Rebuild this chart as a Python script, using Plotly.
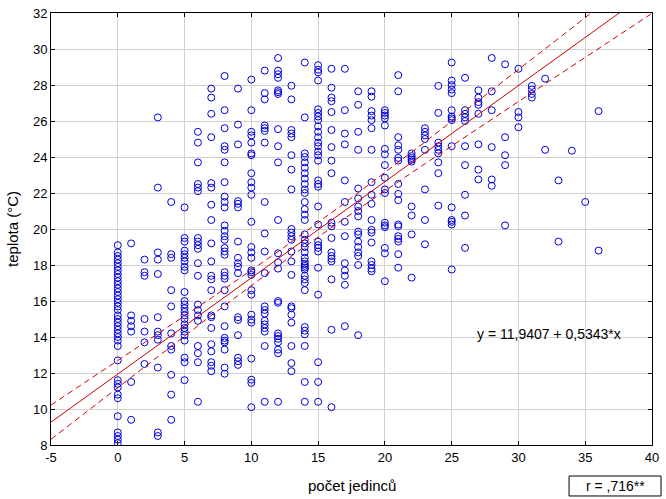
import numpy as np
import plotly.graph_objects as go


# ==========================================================
# Data
# ==========================================================

counts = list(range(0, 37))

temps_by_count = [
    [19.1, 18.7, 18.5, 18.3, 18.1, 17.9, 17.7, 17.5, 17.3, 17.1, 16.9, 16.7, 16.5, 16.3,
     16.1, 15.9, 15.7, 15.5, 15.2, 15.0, 14.8, 14.6, 14.4, 14.2, 14.0, 13.8, 13.5, 12.7,
     11.6, 11.4, 11.2, 10.8, 10.6, 9.6, 8.7, 8.5, 8.3, 8.1],
    [19.2, 15.2, 14.9, 14.6, 14.3, 11.5, 9.4],
    [18.3, 17.6, 17.4, 15.0, 14.3, 13.7, 12.5],
    [26.2, 22.3, 18.7, 18.3, 17.5, 15.1, 14.3, 14.1, 13.85, 12.3, 8.7, 8.5],
    [21.5, 18.6, 18.4, 16.6, 15.7, 14.2, 13.5, 13.3, 11.9, 10.8, 9.4],
    [21.2, 19.5, 19.3, 18.8, 18.6, 18.4, 18.2, 17.9, 17.7, 16.5, 16.0, 15.8, 15.6, 15.4,
     15.2, 15.0, 14.7, 14.5, 14.3, 14.1, 13.8, 12.85, 12.6, 11.6],
    [25.4, 24.8, 23.7, 22.5, 22.3, 22.1, 19.5, 19.3, 19.1, 18.9, 18.1, 17.4, 15.8, 15.5,
     15.2, 14.9, 13.5, 13.1, 12.6, 10.4],
    [27.8, 27.3, 26.4, 25.1, 22.55, 22.3, 21.35, 20.5, 19.2, 18.2, 17.4, 17.2, 16.6, 15.2,
     15.1, 14.5, 13.6, 13.2, 12.6, 12.4, 12.1],
    [28.5, 26.6, 25.6, 24.6, 24.4, 23.7, 22.6, 21.8, 21.5, 21.2, 20.2, 19.9, 19.6, 19.4,
     18.95, 18.75, 18.57, 17.6, 17.4, 17.24, 16.6, 15.7, 14.6, 13.95, 13.8, 13.7, 13.3,
     12.3, 11.96],
    [27.8, 25.8, 24.7, 21.55, 21.4, 21.2, 19.3, 18.4, 18.1, 17.9, 17.55, 15.1, 14.95, 14.1,
     12.85, 12.65, 12.45],
    [28.3, 26.6, 25.4, 25.2, 24.8, 24.2, 24.1, 23.1, 22.6, 22.3, 21.9, 20.4, 19.0, 18.7,
     18.4, 17.7, 17.6, 17.45, 16.6, 16.35, 15.24, 14.96, 14.8, 12.8, 11.63, 11.45, 10.1],
    [28.8, 27.55, 27.2, 25.75, 25.6, 25.45, 24.8, 21.5, 19.75, 18.75, 17.55, 15.7, 15.5,
     15.3, 14.9, 14.7, 14.5, 14.3, 13.5, 10.4],
    [29.5, 28.8, 28.6, 28.4, 27.7, 27.6, 27.5, 25.55, 24.6, 23.7, 20.5, 18.65, 18.15, 17.8,
     16.0, 15.9, 14.2, 14.05, 13.9, 13.7, 13.3, 13.1, 10.4],
    [27.96, 27.2, 25.5, 25.3, 25.1, 24.1, 23.3, 22.2, 20.0, 19.8, 19.6, 19.4, 18.75, 18.2,
     17.45, 15.7, 15.6, 15.24, 14.8, 13.5, 12.55, 12.1],
    [29.25, 26.2, 24.2, 24.0, 23.7, 23.4, 23.1, 22.8, 22.5, 22.2, 22.0, 21.5, 21.1, 20.8,
     20.5, 19.7, 19.4, 19.2, 19.0, 18.7, 18.4, 18.2, 18.05, 17.95, 17.85, 17.75, 17.4,
     17.2, 17.0, 16.6, 14.55, 14.35, 14.15, 13.5, 11.5, 10.4],
    [29.1, 28.85, 28.7, 28.25, 26.65, 26.45, 26.25, 26.05, 25.7, 25.4, 25.1, 24.8, 24.6,
     24.3, 24.1, 23.8, 22.7, 22.5, 22.35, 21.25, 20.25, 19.3, 19.1, 18.95, 18.75, 17.85,
     16.35, 12.6, 11.5, 10.4],
    [28.9, 27.85, 27.3, 27.1, 26.5, 25.5, 24.55, 23.8, 23.1, 20.35, 20.15, 19.5, 18.7,
     18.5, 18.35, 18.2, 17.2, 14.4, 10.1],
    [28.9, 26.6, 25.3, 24.7, 22.7, 21.5, 20.4, 19.6, 18.1, 17.7, 17.4, 16.9, 14.6],
    [27.65, 26.9, 25.4, 24.4, 22.25, 21.7, 21.25, 21.0, 20.7, 19.85, 19.7, 19.3, 19.0,
     18.7, 18.5, 18.0, 14.1],
    [27.65, 27.35, 26.55, 26.3, 26.05, 25.6, 24.4, 22.6, 21.9, 21.4, 20.5, 19.95, 19.8,
     19.25, 18.2, 18.0, 17.8, 17.65],
    [26.6, 26.45, 26.3, 26.15, 25.75, 24.45, 24.15, 23.55, 22.85, 22.2, 22.0, 20.35, 20.2,
     20.1, 18.95, 18.65, 17.1],
    [28.55, 27.65, 25.1, 24.65, 24.4, 23.95, 23.8, 22.5, 21.95, 21.6, 20.25, 20.15, 19.6,
     19.45, 19.3, 18.6, 17.85],
    [24.2, 24.05, 23.95, 23.85, 23.75, 21.25, 20.75, 19.7, 17.3],
    [25.6, 25.4, 25.2, 25.0, 24.4, 22.2, 20.5, 19.15],
    [27.95, 26.45, 24.8, 24.6, 24.4, 24.2, 23.7, 23.1, 21.3],
    [29.25, 28.25, 28.0, 27.75, 27.55, 26.6, 26.25, 26.15, 26.05, 24.6, 21.2, 20.5, 20.4,
     20.25, 17.75],
    [28.4, 26.6, 26.4, 26.2, 26.0, 24.6, 23.55, 21.9, 20.75, 18.95],
    [27.7, 27.3, 27.05, 26.9, 26.4, 24.7, 23.3, 22.75],
    [29.5, 27.65, 26.6, 24.55, 22.75, 22.4],
    [29.15, 25.1, 24.1, 23.55, 20.2],
    [28.9, 26.5, 26.2, 25.65],
    [27.95, 27.75, 27.5, 27.3],
    [28.35, 24.4],
    [22.7, 19.3],
    [24.35],
    [21.5],
    [26.55, 18.8],
]

intercept = 11.9407
slope = 0.5343

x_ticks = [-5, 0, 5, 10, 15, 20, 25, 30, 35, 40]
x_tick_text = ["-5", "0", "5", "10", "15", "20", "25", "30", "35", "40"]
y_ticks = [8, 10, 12, 14, 16, 18, 20, 22, 24, 26, 28, 30, 32]

equation_text = "y = 11,9407 + 0,5343*x"
r_text = "r = ,716**"
x_title = "počet jedinců"
y_title = "teplota (°C)"


# ==========================================================
# Flatten points, regression + 95% band
# ==========================================================

x_pts = np.array([c for c, temps in zip(counts, temps_by_count) for _ in temps], dtype=float)
y_pts = np.array([t for temps in temps_by_count for t in temps], dtype=float)

n = len(x_pts)
x_mean = x_pts.mean()
sxx = ((x_pts - x_mean) ** 2).sum()
resid = y_pts - (intercept + slope * x_pts)
s = np.sqrt((resid ** 2).sum() / (n - 2))

x_line = np.linspace(-5, 40, 200)
y_line = intercept + slope * x_line
half = 1.96 * s * np.sqrt(1 / n + (x_line - x_mean) ** 2 / sxx)

red = "#cc0000"
blue = "#0000dd"
font = "Liberation Sans, Arial, sans-serif"
tick_font = dict(family=font, size=13, color="black")
label_font = dict(family=font, size=14, color="black")
title_font = dict(family=font, size=15, color="black")

fig = go.Figure()

fig.add_trace(
    go.Scatter(
        x=x_pts,
        y=y_pts,
        mode="markers",
        marker=dict(symbol="circle-open", size=7, color=blue, line=dict(width=1, color=blue)),
        showlegend=False
    )
)

for band in (y_line + half, y_line - half):
    fig.add_trace(
        go.Scatter(
            x=x_line,
            y=band,
            mode="lines",
            line=dict(color=red, width=1, dash="6px,4px"),
            showlegend=False
        )
    )

fig.add_trace(
    go.Scatter(
        x=x_line,
        y=y_line,
        mode="lines",
        line=dict(color=red, width=1),
        showlegend=False
    )
)

# equation inside plot
fig.add_annotation(
    x=32.3, y=14.15, xref="x", yref="y",
    xanchor="center", yanchor="middle",
    text=equation_text, showarrow=False, font=label_font
)

# r box, bottom right
fig.add_shape(
    type="rect", xref="paper", yref="paper",
    x0=0.862, x1=1.015, y0=-0.118, y1=-0.0718,
    line=dict(color="black", width=1), fillcolor="white", layer="above"
)
fig.add_annotation(
    x=0.9385, y=-0.095, xref="paper", yref="paper",
    xanchor="center", yanchor="middle",
    text=r_text, showarrow=False, font=label_font
)

# axis titles
fig.add_annotation(
    x=0.5, y=-0.093, xref="paper", yref="paper",
    xanchor="center", yanchor="middle",
    text=x_title, showarrow=False, font=title_font
)
fig.add_annotation(
    x=-0.065, y=0.5, xref="paper", yref="paper",
    xanchor="center", yanchor="middle",
    text=y_title, textangle=-90, showarrow=False, font=title_font
)

axis_common = dict(
    showgrid=True,
    gridcolor="#d0d0d0",
    gridwidth=1,
    zeroline=False,
    showline=True,
    linecolor="black",
    linewidth=1,
    mirror="ticks",
    ticks="inside",
    ticklen=4,
    tickcolor="black",
    tickfont=tick_font,
    automargin=False,
)

fig.update_xaxes(
    range=[-5, 40],
    tickvals=x_ticks,
    ticktext=x_tick_text,
    **axis_common
)

fig.update_yaxes(
    range=[8, 32],
    tickvals=y_ticks,
    **axis_common
)

fig.update_layout(
    width=666,
    height=499,
    margin=dict(l=51, r=14, t=13, b=54),
    paper_bgcolor="white",
    plot_bgcolor="white",
    showlegend=False
)

# drop the default body margin so the figure sits at the page corner
fig.write_html(
    "out.html",
    config={"displayModeBar": False},
    post_script="document.body.style.margin = '0';"
)
